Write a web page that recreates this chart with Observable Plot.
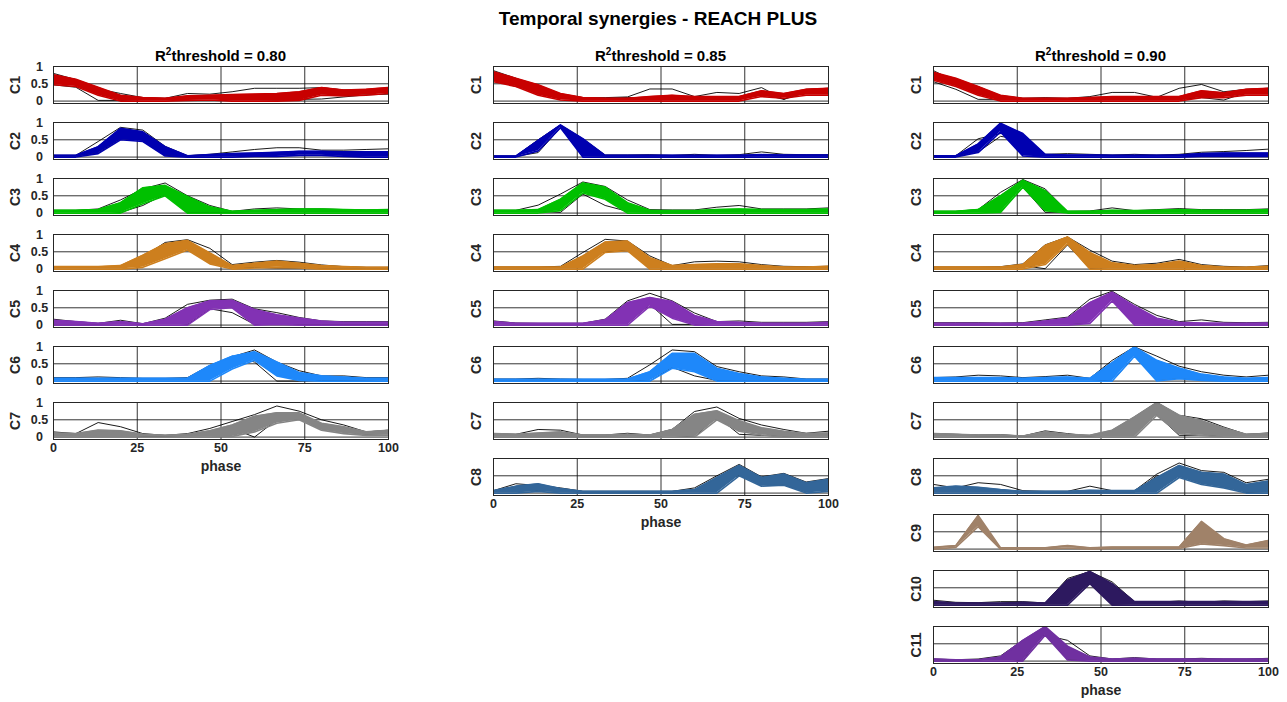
<!DOCTYPE html>
<html><head><meta charset="utf-8">
<script src="https://cdn.jsdelivr.net/npm/d3@7"></script>
<script src="https://cdn.jsdelivr.net/npm/@observablehq/plot@0.6"></script>
<style>
body{margin:0;background:#fff;font-family:'Liberation Sans',Arial,Helvetica,sans-serif;}
#fig{position:relative;width:1287px;height:702px;overflow:hidden;background:#fff;}
.t{position:absolute;font-weight:bold;color:#000;white-space:nowrap;text-align:center;}
.p{position:absolute;}
.p svg{overflow:visible;}
</style></head><body><div id="fig"></div>
<script>
// ---------------- data ----------------
const phase = [0, 6.67, 13.33, 20, 26.67, 33.33, 40, 46.67, 53.33, 60, 66.67, 73.33, 80, 86.67, 93.33, 100];
const synergyLabels = ["C1","C2","C3","C4","C5","C6","C7","C8","C9","C10","C11"];
const synergyColors = ["#c80000","#0000b0","#00c000","#cd7f1e","#8232b4","#1e88fa","#858585","#336699","#a08269","#2d195f","#7030a0"];
const thresholds = ["0.80","0.85","0.90"];
const xTicks = [0, 25, 50, 75, 100];
const yTicks = [0, 0.5, 1];

// R2 threshold = 0.80 (C1..C7)
const band80Low = [
 [0.47,0.42,0.17,0.00,0.00,0.00,0.02,0.03,0.00,0.00,0.00,0.02,0.17,0.15,0.17,0.22],
 [0.00,0.00,0.10,0.50,0.45,0.03,0.00,0.00,0.00,0.02,0.02,0.05,0.05,0.02,0.00,0.00],
 [0.00,0.00,0.00,0.00,0.27,0.50,0.00,0.00,0.00,0.00,0.00,0.00,0.00,0.00,0.00,0.00],
 [0.00,0.00,0.00,0.00,0.05,0.30,0.55,0.15,0.00,0.03,0.05,0.03,0.00,0.00,0.00,0.00],
 [0.00,0.00,0.00,0.00,0.00,0.00,0.00,0.45,0.50,0.00,0.02,0.00,0.00,0.00,0.00,0.00],
 [0.00,0.00,0.00,0.00,0.00,0.00,0.00,0.00,0.35,0.60,0.15,0.02,0.00,0.00,0.00,0.00],
 [0.00,0.00,0.02,0.02,0.00,0.00,0.00,0.00,0.02,0.15,0.40,0.50,0.20,0.10,0.05,0.05]
];
const band80High = [
 [0.76,0.63,0.40,0.17,0.10,0.08,0.15,0.17,0.19,0.20,0.22,0.27,0.39,0.32,0.34,0.39],
 [0.05,0.05,0.30,0.83,0.73,0.30,0.04,0.07,0.10,0.12,0.14,0.17,0.17,0.15,0.15,0.15],
 [0.08,0.08,0.10,0.30,0.73,0.80,0.48,0.18,0.05,0.08,0.10,0.12,0.12,0.10,0.09,0.10],
 [0.07,0.07,0.07,0.10,0.40,0.73,0.83,0.47,0.10,0.17,0.23,0.17,0.10,0.07,0.05,0.05],
 [0.14,0.10,0.05,0.10,0.04,0.17,0.50,0.70,0.72,0.45,0.30,0.20,0.12,0.08,0.08,0.08],
 [0.08,0.08,0.08,0.08,0.08,0.08,0.08,0.45,0.72,0.85,0.55,0.25,0.15,0.12,0.08,0.08],
 [0.12,0.10,0.20,0.18,0.08,0.05,0.08,0.18,0.35,0.60,0.70,0.70,0.40,0.30,0.15,0.20]
];
const black80A = [
 [0.80,0.62,0.35,0.22,0.10,0.08,0.22,0.20,0.27,0.37,0.37,0.37,0.39,0.32,0.30,0.30],
 [0.05,0.05,0.45,0.86,0.78,0.31,0.04,0.08,0.15,0.22,0.27,0.27,0.20,0.20,0.22,0.24],
 [0.08,0.08,0.12,0.38,0.70,0.87,0.50,0.22,0.05,0.12,0.15,0.12,0.12,0.10,0.09,0.10],
 [0.07,0.07,0.07,0.08,0.35,0.77,0.85,0.60,0.13,0.20,0.25,0.20,0.12,0.07,0.05,0.05],
 [0.17,0.10,0.05,0.14,0.04,0.20,0.60,0.72,0.75,0.47,0.36,0.22,0.12,0.10,0.10,0.10],
 [0.10,0.10,0.12,0.10,0.08,0.08,0.10,0.45,0.70,0.90,0.55,0.30,0.15,0.15,0.10,0.10],
 [0.15,0.10,0.42,0.30,0.10,0.05,0.10,0.25,0.45,0.65,0.90,0.75,0.50,0.35,0.15,0.20]
];
const black80B = [
 [0.47,0.40,0.02,0.02,0.05,0.06,0.10,0.12,0.10,0.05,0.03,0.05,0.06,0.12,0.18,0.20],
 [0.03,0.03,0.12,0.54,0.50,0.05,0.02,0.04,0.05,0.05,0.08,0.10,0.10,0.08,0.08,0.08],
 [0.05,0.05,0.08,0.02,0.22,0.55,0.02,0.02,0.02,0.05,0.05,0.05,0.05,0.05,0.05,0.05],
 [0.05,0.05,0.05,0.07,0.30,0.70,0.58,0.25,0.05,0.05,0.03,0.03,0.03,0.03,0.03,0.03],
 [0.03,0.03,0.02,0.05,0.02,0.10,0.02,0.47,0.36,0.02,0.02,0.02,0.02,0.02,0.02,0.02],
 [0.05,0.05,0.05,0.05,0.05,0.05,0.05,0.40,0.72,0.55,0.00,0.00,0.02,0.02,0.03,0.05],
 [0.05,0.05,0.05,0.05,0.02,0.02,0.05,0.10,0.25,0.00,0.50,0.62,0.25,0.15,0.08,0.10]
];

// R2 threshold = 0.85 (C1..C8)
const band85Low = [
 [0.56,0.42,0.17,0.03,0.00,0.00,0.00,0.00,0.00,0.00,0.00,0.00,0.13,0.08,0.17,0.17],
 [0.00,0.00,0.18,0.85,0.00,0.00,0.00,0.00,0.00,0.00,0.00,0.00,0.00,0.00,0.00,0.00],
 [0.00,0.00,0.00,0.07,0.58,0.40,0.00,0.00,0.00,0.00,0.00,0.00,0.00,0.00,0.00,0.00],
 [0.00,0.00,0.00,0.00,0.00,0.48,0.53,0.00,0.00,0.00,0.00,0.00,0.00,0.00,0.00,0.00],
 [0.00,0.00,0.00,0.00,0.00,0.00,0.00,0.55,0.20,0.00,0.00,0.00,0.00,0.00,0.00,0.00],
 [0.00,0.00,0.00,0.00,0.00,0.00,0.00,0.00,0.37,0.27,0.00,0.00,0.00,0.00,0.00,0.00],
 [0.00,0.00,0.02,0.02,0.00,0.00,0.00,0.00,0.00,0.00,0.50,0.17,0.06,0.00,0.00,0.00],
 [0.00,0.00,0.05,0.00,0.00,0.00,0.00,0.00,0.00,0.00,0.00,0.50,0.20,0.23,0.00,0.05]
];
const band85High = [
 [0.85,0.66,0.47,0.22,0.10,0.08,0.08,0.13,0.17,0.13,0.13,0.13,0.30,0.22,0.34,0.37],
 [0.03,0.03,0.48,0.93,0.53,0.05,0.05,0.05,0.05,0.05,0.05,0.05,0.07,0.06,0.06,0.06],
 [0.08,0.08,0.10,0.40,0.87,0.75,0.30,0.08,0.07,0.07,0.10,0.12,0.10,0.10,0.10,0.12],
 [0.06,0.06,0.06,0.06,0.38,0.78,0.81,0.33,0.10,0.13,0.15,0.15,0.10,0.06,0.06,0.08],
 [0.10,0.05,0.05,0.05,0.05,0.15,0.65,0.80,0.68,0.28,0.10,0.08,0.05,0.05,0.05,0.08],
 [0.05,0.05,0.05,0.05,0.05,0.05,0.06,0.27,0.80,0.80,0.37,0.22,0.12,0.08,0.05,0.05],
 [0.10,0.08,0.12,0.15,0.06,0.06,0.08,0.06,0.22,0.66,0.76,0.47,0.27,0.17,0.10,0.12],
 [0.07,0.20,0.27,0.13,0.05,0.05,0.05,0.05,0.05,0.10,0.45,0.80,0.45,0.55,0.30,0.40]
];
const black85A = [
 [0.88,0.66,0.40,0.20,0.10,0.10,0.12,0.35,0.35,0.13,0.25,0.22,0.39,0.05,0.34,0.37],
 [0.03,0.03,0.50,0.93,0.53,0.06,0.06,0.07,0.05,0.08,0.05,0.07,0.15,0.08,0.07,0.07],
 [0.08,0.08,0.23,0.55,0.90,0.77,0.38,0.10,0.09,0.09,0.17,0.22,0.12,0.12,0.12,0.15],
 [0.06,0.06,0.06,0.08,0.48,0.86,0.81,0.38,0.10,0.21,0.23,0.21,0.13,0.08,0.07,0.08],
 [0.12,0.06,0.05,0.05,0.05,0.17,0.70,0.92,0.70,0.35,0.10,0.12,0.08,0.08,0.08,0.10],
 [0.06,0.06,0.08,0.06,0.05,0.05,0.08,0.47,0.90,0.85,0.42,0.27,0.15,0.12,0.06,0.06],
 [0.10,0.08,0.22,0.20,0.06,0.06,0.11,0.06,0.22,0.74,0.87,0.54,0.35,0.22,0.11,0.17],
 [0.07,0.27,0.22,0.15,0.05,0.05,0.05,0.05,0.05,0.15,0.50,0.83,0.47,0.57,0.32,0.42]
];
const black85B = [
 [0.60,0.42,0.32,0.13,0.08,0.07,0.10,0.10,0.15,0.10,0.10,0.10,0.20,0.05,0.25,0.30],
 [0.02,0.02,0.13,0.85,0.05,0.03,0.03,0.03,0.03,0.03,0.03,0.03,0.05,0.03,0.03,0.03],
 [0.05,0.05,0.05,0.02,0.55,0.22,0.05,0.03,0.03,0.03,0.05,0.05,0.05,0.05,0.05,0.05],
 [0.04,0.04,0.04,0.05,0.30,0.50,0.55,0.05,0.05,0.05,0.05,0.05,0.05,0.04,0.04,0.04],
 [0.05,0.03,0.03,0.03,0.03,0.10,0.05,0.60,0.02,0.02,0.05,0.05,0.04,0.04,0.04,0.05],
 [0.03,0.03,0.03,0.03,0.03,0.03,0.04,0.00,0.40,0.15,0.02,0.03,0.03,0.03,0.03,0.03],
 [0.05,0.05,0.08,0.05,0.03,0.03,0.05,0.03,0.05,0.00,0.60,0.08,0.05,0.03,0.05,0.05],
 [0.05,0.05,0.08,0.05,0.03,0.03,0.03,0.03,0.03,0.05,0.40,0.50,0.30,0.25,0.05,0.10]
];

// R2 threshold = 0.90 (C1..C11)
const band90Low = [
 [0.60,0.42,0.17,0.00,0.00,0.00,0.00,0.00,0.00,0.00,0.00,0.00,0.10,0.10,0.17,0.17],
 [0.00,0.00,0.13,0.73,0.03,0.00,0.00,0.00,0.00,0.00,0.00,0.00,0.02,0.02,0.02,0.02],
 [0.00,0.00,0.00,0.02,0.75,0.07,0.00,0.00,0.00,0.00,0.00,0.00,0.00,0.00,0.00,0.00],
 [0.00,0.00,0.00,0.00,0.00,0.13,0.73,0.00,0.00,0.00,0.00,0.00,0.00,0.00,0.00,0.00],
 [0.00,0.00,0.00,0.00,0.00,0.00,0.00,0.05,0.70,0.00,0.00,0.00,0.00,0.00,0.00,0.00],
 [0.00,0.00,0.00,0.00,0.00,0.00,0.00,0.00,0.00,0.72,0.00,0.07,0.02,0.00,0.00,0.00],
 [0.00,0.00,0.00,0.00,0.00,0.00,0.00,0.00,0.00,0.00,0.63,0.10,0.05,0.00,0.00,0.00],
 [0.00,0.00,0.00,0.00,0.00,0.00,0.00,0.00,0.00,0.00,0.00,0.45,0.25,0.15,0.00,0.00],
 [0.00,0.05,0.65,0.00,0.00,0.00,0.03,0.00,0.02,0.02,0.02,0.02,0.15,0.10,0.03,0.03],
 [0.00,0.00,0.00,0.00,0.00,0.00,0.00,0.62,0.00,0.00,0.00,0.00,0.00,0.00,0.00,0.00],
 [0.00,0.00,0.00,0.00,0.00,0.75,0.03,0.00,0.00,0.00,0.00,0.00,0.00,0.00,0.00,0.00]
];
const band90High = [
 [0.83,0.66,0.42,0.17,0.08,0.08,0.08,0.10,0.13,0.13,0.13,0.13,0.30,0.24,0.34,0.37],
 [0.04,0.04,0.38,0.98,0.68,0.08,0.06,0.06,0.05,0.05,0.05,0.06,0.10,0.12,0.12,0.12],
 [0.05,0.05,0.10,0.50,0.95,0.65,0.05,0.05,0.08,0.07,0.08,0.10,0.08,0.08,0.08,0.10],
 [0.06,0.06,0.06,0.06,0.13,0.68,0.93,0.48,0.18,0.10,0.13,0.23,0.10,0.06,0.05,0.08],
 [0.05,0.05,0.05,0.05,0.05,0.12,0.20,0.65,0.95,0.55,0.20,0.08,0.06,0.05,0.05,0.06],
 [0.10,0.10,0.10,0.10,0.08,0.10,0.12,0.08,0.53,0.99,0.60,0.38,0.20,0.12,0.08,0.10],
 [0.10,0.08,0.06,0.06,0.03,0.15,0.08,0.05,0.20,0.58,1.00,0.63,0.47,0.26,0.08,0.10],
 [0.15,0.20,0.17,0.10,0.05,0.05,0.05,0.08,0.07,0.07,0.45,0.80,0.60,0.55,0.25,0.35],
 [0.05,0.10,0.97,0.04,0.04,0.04,0.10,0.04,0.06,0.06,0.06,0.06,0.80,0.30,0.12,0.25],
 [0.10,0.06,0.06,0.06,0.08,0.06,0.72,0.97,0.62,0.10,0.10,0.10,0.10,0.10,0.10,0.10],
 [0.06,0.04,0.04,0.12,0.60,1.00,0.43,0.12,0.06,0.08,0.06,0.06,0.06,0.06,0.06,0.06]
];
const black90A = [
 [0.88,0.56,0.42,0.15,0.08,0.10,0.08,0.13,0.25,0.25,0.11,0.37,0.48,0.27,0.34,0.37],
 [0.04,0.04,0.53,0.68,0.66,0.08,0.10,0.08,0.06,0.08,0.06,0.08,0.14,0.16,0.19,0.23],
 [0.05,0.05,0.10,0.60,0.97,0.70,0.05,0.06,0.15,0.07,0.10,0.13,0.10,0.10,0.10,0.12],
 [0.06,0.06,0.06,0.07,0.15,0.70,0.93,0.55,0.23,0.13,0.17,0.28,0.13,0.08,0.06,0.10],
 [0.07,0.07,0.07,0.06,0.07,0.15,0.23,0.75,0.98,0.60,0.28,0.10,0.15,0.08,0.07,0.08],
 [0.10,0.12,0.17,0.15,0.10,0.13,0.17,0.08,0.60,0.99,0.72,0.43,0.27,0.17,0.12,0.17],
 [0.10,0.08,0.06,0.07,0.03,0.18,0.10,0.03,0.18,0.58,1.00,0.63,0.53,0.29,0.08,0.12],
 [0.25,0.15,0.30,0.25,0.07,0.05,0.05,0.20,0.07,0.07,0.55,0.87,0.65,0.60,0.30,0.40],
 null,
 [0.14,0.08,0.07,0.10,0.10,0.06,0.77,0.97,0.67,0.10,0.08,0.12,0.08,0.12,0.10,0.12],
 [0.06,0.04,0.06,0.15,0.60,0.75,0.60,0.15,0.06,0.10,0.06,0.06,0.08,0.06,0.06,0.08]
];
const black90B = [
 [0.56,0.34,0.05,0.05,0.05,0.05,0.05,0.05,0.05,0.05,0.05,0.05,0.10,0.03,0.25,0.30],
 [0.02,0.02,0.15,0.60,0.50,0.04,0.04,0.04,0.04,0.04,0.04,0.04,0.05,0.05,0.05,0.05],
 [0.03,0.03,0.05,0.03,0.75,0.02,0.03,0.03,0.04,0.03,0.04,0.05,0.04,0.04,0.04,0.05],
 [0.04,0.04,0.04,0.04,0.10,0.01,0.70,0.02,0.05,0.05,0.05,0.05,0.05,0.04,0.04,0.04],
 [0.03,0.03,0.03,0.03,0.03,0.05,0.05,0.05,0.70,0.05,0.03,0.03,0.03,0.03,0.03,0.03],
 [0.05,0.05,0.05,0.05,0.05,0.05,0.05,0.05,0.00,0.72,0.05,0.07,0.05,0.05,0.05,0.05],
 [0.05,0.05,0.03,0.03,0.02,0.05,0.05,0.02,0.10,0.50,0.65,0.05,0.05,0.05,0.05,0.05],
 [0.10,0.10,0.10,0.05,0.03,0.03,0.03,0.03,0.03,0.03,0.50,0.50,0.35,0.30,0.02,0.05],
 null,
 [0.05,0.04,0.04,0.04,0.04,0.04,0.14,0.65,0.02,0.05,0.05,0.05,0.05,0.05,0.05,0.05],
 [0.03,0.03,0.03,0.10,0.00,0.95,0.05,0.05,0.03,0.03,0.03,0.03,0.03,0.03,0.03,0.03]
];

// ---------------- layout ----------------
const columns = [
  {thr: thresholds[0], lo: band80Low, hi: band80High, ka: black80A, kb: black80B, left: 53},
  {thr: thresholds[1], lo: band85Low, hi: band85High, ka: black85A, kb: black85B, left: 493},
  {thr: thresholds[2], lo: band90Low, hi: band90High, ka: black90A, kb: black90B, left: 933}
];
const PW = 335, PH = 37, TOP0 = 66, PITCH = 56;
const fig = document.getElementById("fig");
const FONT = "'Liberation Sans', Arial, Helvetica, sans-serif";
const INK = "#262626";

function addDiv(html, left, top, width, size) {
  const d = document.createElement("div");
  d.className = "t";
  d.style.left = left + "px"; d.style.top = top + "px"; d.style.width = width + "px";
  d.style.fontSize = size + "px"; d.style.lineHeight = size + "px";
  d.innerHTML = html;
  fig.appendChild(d);
}
addDiv("Temporal synergies - REACH PLUS", 258, 9, 800, 19);

columns.forEach((col, ci) => {
  addDiv(`R<span style="font-size:10px;position:relative;top:-6px;">2</span>threshold = ${col.thr}`, col.left + PW/2 - 150, 48, 300, 15);
  const n = col.lo.length;
  for (let r = 0; r < n; r++) {
    const last = r === n - 1;
    const mL = 45, mR = 4, mT = 4, mB = last ? 44 : 4;
    const rows = phase.map((p, i) => ({
      phase: p, lo: col.lo[r][i], hi: col.hi[r][i],
      a: col.ka[r] ? col.ka[r][i] : null, b: col.kb[r] ? col.kb[r][i] : null
    }));
    const color = synergyColors[r];
    const pxPerUnit = PW / 100;
    const labelX = -(ci === 0 ? 38 : 17) / pxPerUnit;
    const tickX = -14 / pxPerUnit;
    const marks = [
      Plot.ruleX([25, 50, 75], {stroke: "#111", strokeWidth: 1, strokeOpacity: 0.85}),
      Plot.ruleY([0, 0.5], {stroke: "#111", strokeWidth: 1, strokeOpacity: 0.85})
    ];
    if (col.ka[r]) {
      marks.push(Plot.lineY(rows, {x: "phase", y: "a", stroke: "#000", strokeWidth: 0.9, clip: true}));
      marks.push(Plot.lineY(rows, {x: "phase", y: "b", stroke: "#000", strokeWidth: 0.9, clip: true}));
    }
    marks.push(
      Plot.areaY(rows, {x: "phase", y1: "lo", y2: "hi", fill: color, clip: true}),
      Plot.lineY(rows, {x: "phase", y: "lo", stroke: color, strokeWidth: 1.6, clip: true}),
      Plot.lineY(rows, {x: "phase", y: "hi", stroke: color, strokeWidth: 1.6, clip: true}),
      Plot.frame({stroke: INK, strokeWidth: 1}),
      Plot.text([{x: labelX, y: 0.465, t: synergyLabels[r]}], {x: "x", y: "y", text: "t", rotate: -90, fontSize: 14, fontWeight: "bold", fill: INK})
    );
    if (ci === 0) {
      marks.push(Plot.text(yTicks.map(v => ({x: tickX, y: v, t: String(v)})), {x: "x", y: "y", text: "t", textAnchor: "middle", fontSize: 12.5, fontWeight: "bold", fill: INK}));
    }
    if (last) {
      marks.push(Plot.axisX({ticks: xTicks, tickFormat: d => String(d), tickSize: 0, tickPadding: 4, fontSize: 12.5, fontWeight: "bold", label: null}));
      marks.push(Plot.text(["phase"], {frameAnchor: "bottom", dy: 31, fontSize: 14, fontWeight: "bold", fill: INK}));
    }
    const W = PW + mL + mR, H = PH + mT + mB;
    const svg = Plot.plot({
      width: W, height: H,
      marginLeft: mL, marginRight: mR, marginTop: mT, marginBottom: mB,
      x: {domain: [0, 100], axis: null},
      y: {domain: [-0.07, 1], axis: null},
      style: {fontFamily: FONT, fontSize: "12px", fontWeight: "bold", color: INK, background: "transparent", overflow: "visible"},
      marks
    });
    const wrap = document.createElement("div");
    wrap.className = "p";
    wrap.style.left = (col.left - mL) + "px";
    wrap.style.top = (TOP0 + PITCH * r - mT) + "px";
    wrap.style.width = W + "px"; wrap.style.height = H + "px";
    wrap.appendChild(svg);
    fig.appendChild(wrap);
  }
});
</script></body></html>
